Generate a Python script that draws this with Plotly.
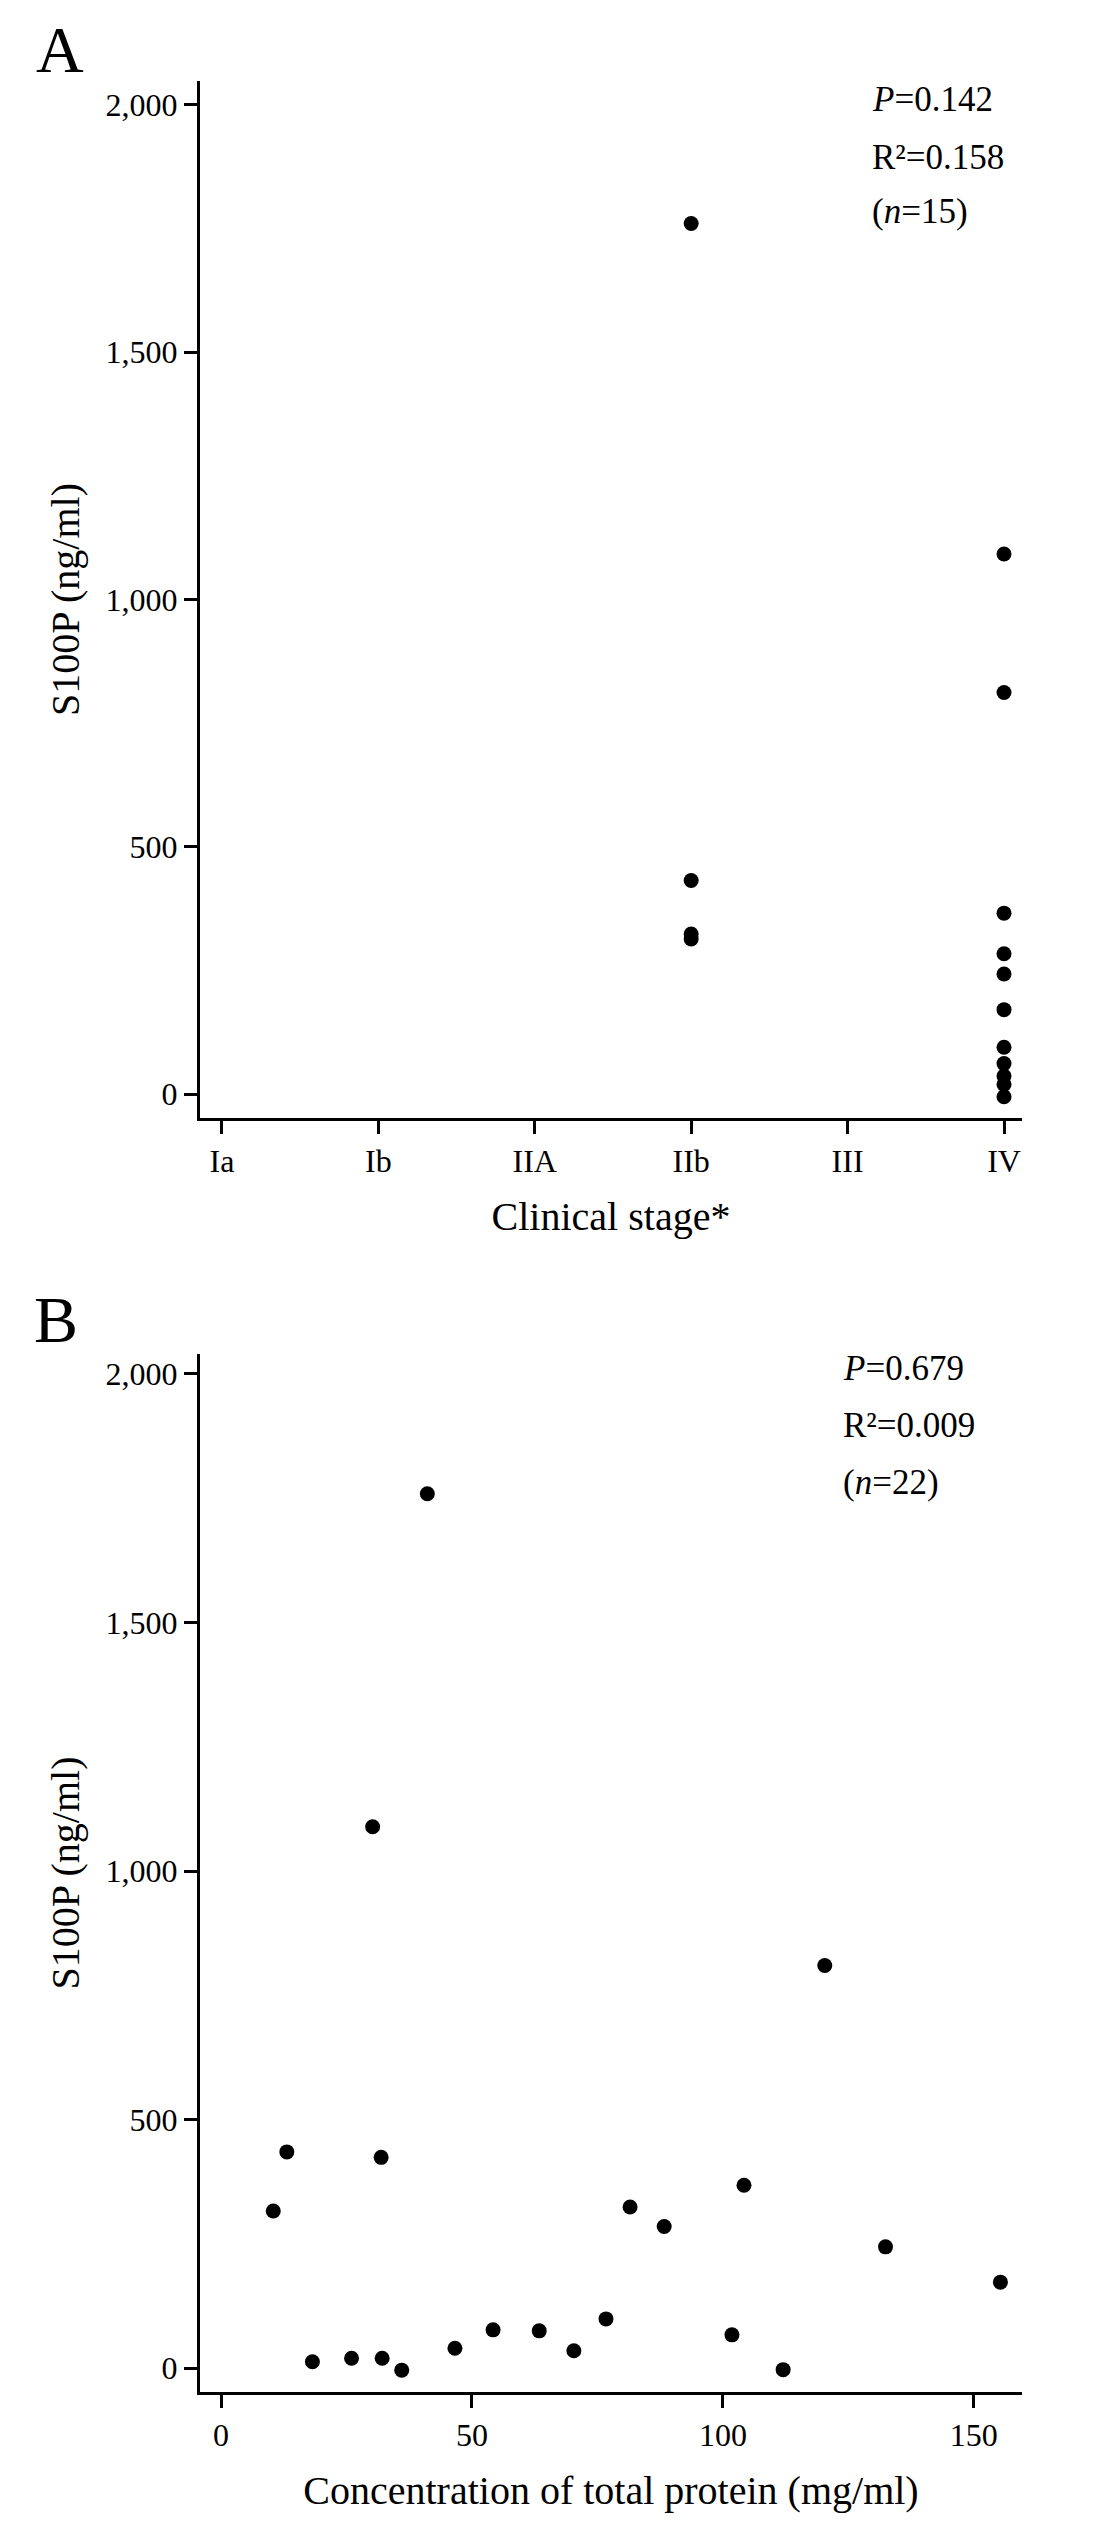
import plotly.graph_objects as go

# ---- data ----
stages = ["Ia", "Ib", "IIA", "IIb", "III", "IV"]
stage_a = ["IIb", "IIb", "IIb", "IIb",
           "IV", "IV", "IV", "IV", "IV", "IV", "IV", "IV", "IV", "IV", "IV"]
s100p_a = [1760, 432, 324, 314,
           1092, 812, 366, 284, 243, 171, 95, 62, 37, 20, -5]

protein_b = [10.4, 13.1, 18.2, 26.0, 30.2, 31.9, 32.1, 36.0, 41.1, 46.6, 54.2,
             63.4, 70.3, 76.7, 81.5, 88.3, 101.8, 104.2, 112.0, 120.3, 132.4, 155.3]
s100p_b = [316, 435, 13, 20, 1089, 424, 20, -4, 1759, 40, 77,
           75, 35, 99, 324, 285, 67, 368, -3, 810, 244, 173]

y_tickvals = [0, 500, 1000, 1500, 2000]
y_ticktext = ["0", "500", "1,000", "1,500", "2,000"]
x_tickvals_b = [0, 50, 100, 150]
x_ticktext_b = ["0", "50", "100", "150"]

stats_a = ["<i>P</i>=0.142", "R²=0.158", "(<i>n</i>=15)"]
stats_b = ["<i>P</i>=0.679", "R²=0.009", "(<i>n</i>=22)"]

# ---- layout helpers ----
W, H = 1105, 2528
FONT = "Liberation Serif"


def px_x(p):
    return p / W


def px_y(p):
    return 1 - p / H


fig = go.Figure()
marker = dict(color="black", size=15, line=dict(width=0))
fig.add_trace(go.Scatter(x=stage_a, y=s100p_a, mode="markers", marker=marker,
                         xaxis="x", yaxis="y", showlegend=False))
fig.add_trace(go.Scatter(x=protein_b, y=s100p_b, mode="markers", marker=marker,
                         xaxis="x2", yaxis="y2", showlegend=False))

axis_common = dict(showline=True, linecolor="black", linewidth=3,
                   ticks="outside", ticklen=13, tickwidth=3, tickcolor="black",
                   showgrid=False, zeroline=False, mirror=False,
                   tickfont=dict(family=FONT, size=32, color="black"),
                   automargin=False)

xdom = [px_x(192), px_x(1014)]
fig.update_layout(
    width=W, height=H,
    margin=dict(l=0, r=0, t=0, b=0),
    paper_bgcolor="white", plot_bgcolor="white",
    font=dict(family=FONT, color="black"),
    xaxis=dict(axis_common, domain=xdom, anchor="y", type="category",
               categoryorder="array", categoryarray=stages,
               range=[-0.14, 5.115],
               title=dict(text="Clinical stage*", standoff=24,
                          font=dict(family=FONT, size=40, color="black"))),
    yaxis=dict(axis_common, domain=[px_y(1110), px_y(73)], anchor="x",
               range=[-48, 2048], tickvals=y_tickvals, ticktext=y_ticktext,
               title=dict(text="S100P (ng/ml)", standoff=14,
                          font=dict(family=FONT, size=40, color="black"))),
    xaxis2=dict(axis_common, domain=xdom, anchor="y2",
                range=[-4.2, 159.6], tickvals=x_tickvals_b, ticktext=x_ticktext_b,
                title=dict(text="Concentration of total protein (mg/ml)", standoff=24,
                           font=dict(family=FONT, size=40, color="black"))),
    yaxis2=dict(axis_common, domain=[px_y(2384), px_y(1346)], anchor="x2",
                range=[-48, 2040], tickvals=y_tickvals, ticktext=y_ticktext,
                title=dict(text="S100P (ng/ml)", standoff=14,
                           font=dict(family=FONT, size=40, color="black"))),
)

ann = []
ann.append(dict(text="A", x=px_x(26), y=px_y(42), xref="paper", yref="paper",
                xanchor="left", yanchor="middle", showarrow=False,
                font=dict(family=FONT, size=66, color="black")))
ann.append(dict(text="B", x=px_x(24), y=px_y(1311), xref="paper", yref="paper",
                xanchor="left", yanchor="middle", showarrow=False,
                font=dict(family=FONT, size=66, color="black")))
for txt, yy in zip(stats_a, [92, 149, 204]):
    ann.append(dict(text=txt, x=px_x(862), y=px_y(yy), xref="paper", yref="paper",
                    xanchor="left", yanchor="middle", showarrow=False,
                    font=dict(family=FONT, size=35, color="black")))
for txt, yy in zip(stats_b, [1360, 1417, 1474]):
    ann.append(dict(text=txt, x=px_x(833), y=px_y(yy), xref="paper", yref="paper",
                    xanchor="left", yanchor="middle", showarrow=False,
                    font=dict(family=FONT, size=35, color="black")))
fig.update_layout(annotations=ann)

fig.write_html("out.html")
